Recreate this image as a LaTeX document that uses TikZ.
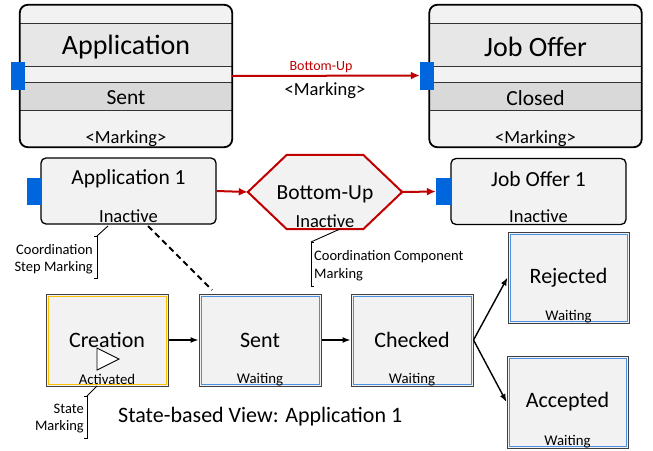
\documentclass[tikz,border=0pt]{standalone}
\usepackage{fontspec}
\setmainfont{Carlito}
\usetikzlibrary{calc,arrows.meta}

\definecolor{boxgray}{HTML}{F2F2F2}
\definecolor{bandgray}{HTML}{E7E7E7}
\definecolor{darkband}{HTML}{D9D9D9}
\definecolor{cred}{HTML}{C00000}
\definecolor{portblue}{HTML}{0066DD}
\definecolor{lineblue}{HTML}{4A90E2}
\definecolor{gold}{HTML}{FFC000}

\tikzset{
  topframe/.style={minimum width=212pt, minimum height=142pt, inner sep=0pt},
  port/.style={fill=portblue, minimum width=14pt, minimum height=28pt, inner sep=0pt},
  compbox/.style={draw=black, line width=1.3pt, rounded corners=5pt, fill=boxgray, minimum width=175pt, minimum height=66pt, inner sep=0pt},
  state/.style={draw=black!75, line width=1pt, fill=boxgray, minimum width=122pt, minimum height=92pt, inner sep=0pt, font=\fontsize{22}{24}\selectfont},
  redarrow/.style={cred, line width=2pt, -{Latex[length=9pt,width=8pt]}},
  flow/.style={line width=1.4pt, -{Latex[length=8pt,width=6pt]}},
  bigtext/.style={font=\fontsize{28}{30}\selectfont},
  midtext/.style={font=\fontsize{21.5}{24}\selectfont},
  marktext/.style={font=\fontsize{18.5}{20}\selectfont},
  redlabel/.style={text=cred, font=\fontsize{14}{16}\selectfont},
  smalltext/.style={font=\fontsize{14.8}{16}\selectfont, inner sep=0pt},
  notetext/.style={font=\fontsize{14.5}{17.5}\selectfont, inner sep=0pt},
  bracket/.style={line width=0.9pt}
}

\begin{document}
\begin{tikzpicture}[x=1pt, y=-1pt]
        \useasboundingbox (0,0) rectangle (653,450);

        \node[topframe] (app) at (126,76) {};
        \node[topframe] (job) at (535.5,76) {};
        \foreach \c in {app,job} {
          \begin{scope}
            \clip[rounded corners=8pt] (\c.north west) rectangle (\c.south east);
            \fill[boxgray] (\c.north west) rectangle (\c.south east);
            \fill[bandgray] ($(\c.north west)+(0,19)$) rectangle ($(\c.north east)+(0,62)$);
            \fill[darkband] ($(\c.north west)+(0,78)$) rectangle ($(\c.north east)+(0,106)$);
            \foreach \d in {19,62,78,106}
              \draw[black!80, line width=0.9pt] ($(\c.north west)+(0,\d)$) -- ($(\c.north east)+(0,\d)$);
          \end{scope}
          \draw[line width=1.8pt, rounded corners=8pt] (\c.north west) rectangle (\c.south east);
        }
        \node[port] (pa) at (17.5,75.5) {};
        \node[port] (pj) at (427,75.5) {};

        \node[bigtext] (appname) at (126,47) {Application};
        \node[midtext] (appstate) at (126,98) {Sent};
        \node[marktext] (appmark) at (126,139) {<Marking>};
        \node[bigtext] (jobname) at (535.5,47) {Job Offer};
        \node[midtext] (jobstate) at (535.5,98) {Closed};
        \node[marktext] (jobmark) at (535.5,139) {<Marking>};

        \draw[redarrow] (app.east) -- (pj.west);
        \node[redlabel] (buplabel) at (321,67) {Bottom-Up};
        \node[marktext] (bupmark) at (325,91) {<Marking>};

        \node[compbox] (app1) at (128.5,191) {};
        \node[compbox] (job1) at (538.5,191.5) {};
        \node[port, minimum height=27pt] (pa1) at (34,191.5) {};
        \node[port, minimum height=27pt, minimum width=15pt] (pj1) at (443.5,191.5) {};
        \node[midtext] (app1name) at (128.5,179) {Application 1};
        \node[marktext] (app1state) at (128.5,216.5) {Inactive};
        \node[midtext] (job1name) at (538.5,179) {Job Offer 1};
        \node[marktext] (job1state) at (538.5,216.5) {Inactive};

        \node[minimum width=154pt, minimum height=74pt, inner sep=0pt] (hex) at (325,192) {};
        \draw[cred, line width=2pt, fill=boxgray] (hex.west) -- ($(hex.north west)+(39,0)$) -- ($(hex.north east)+(-39,0)$)
          -- (hex.east) -- ($(hex.south east)+(-39,0)$) -- ($(hex.south west)+(39,0)$) -- cycle;
        \node[midtext] (hexname) at (325,194) {Bottom-Up};
        \node[marktext] (hexstate) at (325,221.5) {Inactive};

        \draw[redarrow] (app1.east) -- (hex.west);
        \draw[redarrow] (hex.east) -- (pj1.west);

        \node[state] (crea) at (107,340) {\raisebox{-2pt}{Creation}};
        \node[state] (sent) at (260,340) {\raisebox{-2pt}{Sent}};
        \node[state] (checked) at (412,340) {\raisebox{-2pt}{Checked}};
        \node[state, minimum width=121pt, minimum height=91pt] (rej) at (568.5,277.5) {\raisebox{0pt}{Rejected}};
        \node[state, minimum width=121pt] (acc) at (567.5,402) {\raisebox{-1pt}{Accepted}};
        \draw[gold, line width=0.8pt] ($(crea.north west)+(2.5,2.5)$) rectangle ($(crea.south east)+(-2.5,-2.5)$);
        \foreach \n in {sent,checked,rej,acc}
          \draw[lineblue, line width=0.9pt] ($(\n.north west)+(2.5,2.5)$) rectangle ($(\n.south east)+(-2.5,-2.5)$);

        \draw[line width=0.9pt, fill=white] (97,348) -- (97,370) -- (119,359) -- cycle;
        \node[smalltext] (creastate) at (107,379.5) {Activated};
        \node[smalltext] (sentstate) at (260,379.5) {Waiting};
        \node[smalltext] (checkedstate) at (412,379.5) {Waiting};
        \node[smalltext] (rejstate) at (568.5,316.5) {Waiting};
        \node[smalltext] (accstate) at (567.5,441.5) {Waiting};

        \draw[flow] (crea) -- (sent);
        \draw[flow] (sent) -- (checked);
        \draw[flow] (checked.east) -- (rej.west);
        \draw[flow] (checked.east) -- (acc.west);

        \coordinate (dashs) at (148,226);
        \coordinate (dashe) at (212,290);
        \draw[line width=1.8pt, dash pattern=on 6pt off 4pt] (dashs) -- (dashe);

        \coordinate (n1) at (97,236);
        \draw[bracket] (108,226) -- (n1);
        \draw[bracket] (94,236) -- (n1) -- (97,278) -- (94,278);
        \node[notetext, anchor=east, align=right] (note1) at (93,259) {Coordination\\Step Marking};

        \coordinate (n2) at (311,242);
        \draw[bracket] (340,229) -- (n2);
        \draw[bracket] (314,242) -- (n2) -- (311,286) -- (314,286);
        \node[notetext, anchor=west, align=left] (note2) at (314,265.5) {Coordination Component\\Marking};

        \coordinate (n3) at (87,396);
        \draw[bracket] (97,386) -- (n3);
        \draw[bracket] (84,396) -- (n3) -- (87,438) -- (84,438);
        \node[notetext, anchor=east, align=right] (note3) at (84,418.5) {State\\Marking};

        \node[font=\fontsize{22}{24}\selectfont, anchor=west, inner sep=0pt] (title) at (118,417) {State-based View: Application 1};
\end{tikzpicture}
\end{document}
